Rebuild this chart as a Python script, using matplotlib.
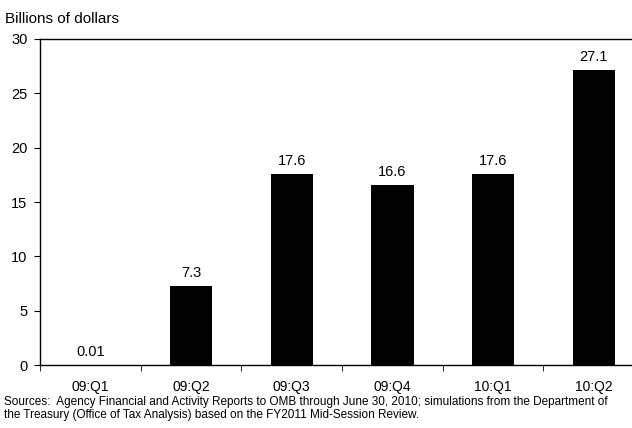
import numpy as np
import matplotlib.pyplot as plt

plt.rcParams['font.family'] = ['Liberation Sans', 'DejaVu Sans']

# data
quarters = ['09:Q1', '09:Q2', '09:Q3', '09:Q4', '10:Q1', '10:Q2']
values = [0.01, 7.3, 17.6, 16.6, 17.6, 27.1]
value_labels = ['0.01', '7.3', '17.6', '16.6', '17.6', '27.1']
yticks = [0, 5, 10, 15, 20, 25, 30]

fig = plt.figure(figsize=(6.32, 4.28), dpi=100)
# right edge runs past the figure, like the cropped original
ax = fig.add_axes([0.0633, 0.147, 0.956, 0.762])

x = np.arange(len(quarters))
ax.bar(x, values, width=0.42, color='black')
for xi, v, lab in zip(x, values, value_labels):
    ax.text(xi, v + 0.55, lab, ha='center', va='bottom', fontsize=10.5)

ax.set_xlim(-0.5, len(quarters) - 0.5)
ax.set_ylim(0, 30)
ax.set_yticks(yticks)
ax.tick_params(axis='y', direction='out', length=4, labelsize=10.5, pad=5)

ax.set_xticks(x)
ax.set_xticklabels(quarters, fontsize=10)
ax.tick_params(axis='x', which='major', length=0, pad=11)
ax.set_xticks(np.arange(len(quarters) + 1) - 0.5, minor=True)
ax.tick_params(axis='x', which='minor', direction='out', length=4)

for s in ['left', 'bottom', 'top']:
    ax.spines[s].set_linewidth(1.0)
ax.spines['right'].set_visible(False)

fig.text(0.008, 0.956, 'Billions of dollars', fontsize=11, va='center')
fig.text(0.006, 0.074,
         'Sources:  Agency Financial and Activity Reports to OMB through June 30, 2010; '
         'simulations from the Department of\n'
         'the Treasury (Office of Tax Analysis) based on the FY2011 Mid-Session Review.',
         fontsize=8.5, va='top', linespacing=1.05)

fig.savefig('out.png', dpi=100)
